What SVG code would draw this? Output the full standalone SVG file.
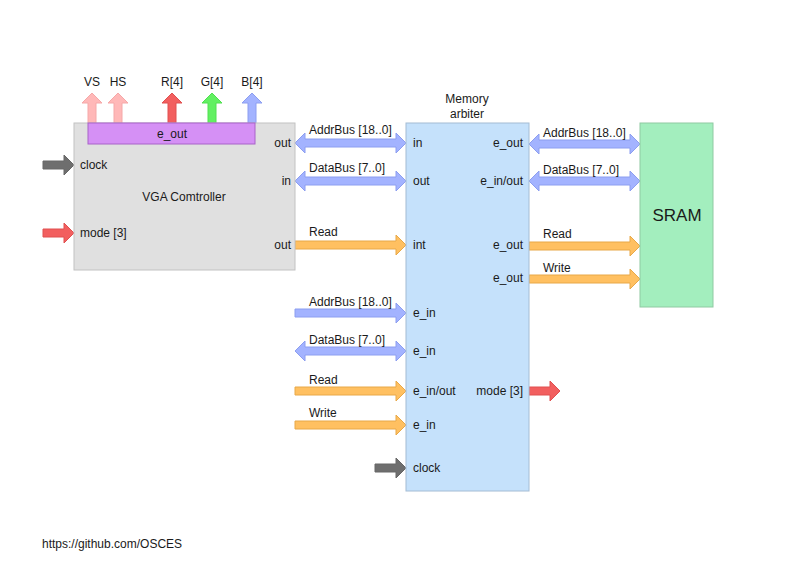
<svg xmlns="http://www.w3.org/2000/svg" width="800" height="577" viewBox="0 0 800 577">
<style>
text{font-family:"Liberation Sans",Arial,sans-serif;font-size:12px;fill:#1a1a1a}
.r{text-anchor:end}
.m{text-anchor:middle}
.blue{fill:#a3b3ff;stroke:#8c9ef0;stroke-width:1}
.orange{fill:#ffc061;stroke:#e8a848;stroke-width:1}
.gray{fill:#6e6e6e;stroke:#666;stroke-width:1}
.red{fill:#f25f5f;stroke:#e05050;stroke-width:1}
.pink{fill:#ffb8b8;stroke:#f5a8a8;stroke-width:1}
.green{fill:#62f062;stroke:#50e050;stroke-width:1}
</style>
<rect width="800" height="577" fill="#ffffff"/>
<g id="connectors">
<path class="pink" d="M88,123 L88,103 L82,103 L92,93 L102,103 L96,103 L96,123 Z"/>
<path class="pink" d="M114,123 L114,103 L108,103 L118,93 L128,103 L122,103 L122,123 Z"/>
<path class="red" d="M168,123 L168,103 L162,103 L172,93 L182,103 L176,103 L176,123 Z"/>
<path class="green" d="M208,123 L208,103 L202,103 L212,93 L222,103 L216,103 L216,123 Z"/>
<path class="blue" d="M248,123 L248,103 L242,103 L252,93 L262,103 L256,103 L256,123 Z"/>
<path class="gray" d="M43,161 L64,161 L64,155 L74,165 L64,175 L64,169 L43,169 Z"/>
<path class="red" d="M43,229 L64,229 L64,223 L74,233 L64,243 L64,237 L43,237 Z"/>
<path class="blue" d="M295,143 L305,133 L305,139 L396,139 L396,133 L406,143 L396,153 L396,147 L305,147 L305,153 Z"/>
<path class="blue" d="M295,181 L305,171 L305,177 L396,177 L396,171 L406,181 L396,191 L396,185 L305,185 L305,191 Z"/>
<path class="orange" d="M295,241 L396,241 L396,235 L406,245 L396,255 L396,249 L295,249 Z"/>
<path class="blue" d="M295,309 L396,309 L396,303 L406,313 L396,323 L396,317 L295,317 Z"/>
<path class="blue" d="M295,351 L305,341 L305,347 L396,347 L396,341 L406,351 L396,361 L396,355 L305,355 L305,361 Z"/>
<path class="orange" d="M295,387 L396,387 L396,381 L406,391 L396,401 L396,395 L295,395 Z"/>
<path class="orange" d="M295,421 L396,421 L396,415 L406,425 L396,435 L396,429 L295,429 Z"/>
<path class="gray" d="M375,464 L396,464 L396,458 L406,468 L396,478 L396,472 L375,472 Z"/>
<path class="red" d="M529,387 L550,387 L550,381 L560,391 L550,401 L550,395 L529,395 Z"/>
<path class="blue" d="M529,144 L539,134 L539,140 L630,140 L630,134 L640,144 L630,154 L630,148 L539,148 L539,154 Z"/>
<path class="blue" d="M529,181 L539,171 L539,177 L630,177 L630,171 L640,181 L630,191 L630,185 L539,185 L539,191 Z"/>
<path class="orange" d="M529,242 L630,242 L630,236 L640,246 L630,256 L630,250 L529,250 Z"/>
<path class="orange" d="M529,275 L630,275 L630,269 L640,279 L630,289 L630,283 L529,283 Z"/>
<text x="309" y="134">AddrBus [18..0]</text>
<text x="309" y="172">DataBus [7..0]</text>
<text x="309" y="236">Read</text>
<text x="309" y="306">AddrBus [18..0]</text>
<text x="309" y="344">DataBus [7..0]</text>
<text x="309" y="384">Read</text>
<text x="309" y="417">Write</text>
<text x="543" y="137">AddrBus [18..0]</text>
<text x="543" y="174">DataBus [7..0]</text>
<text x="543" y="238">Read</text>
<text x="543" y="272">Write</text>
</g>
<g id="vga">
<rect x="74" y="123" width="221" height="147" fill="#e0e0e0" stroke="#c2c2c2"/>
<text class="m" x="184" y="201">VGA Comtroller</text>
<text x="80" y="169">clock</text>
<text x="80" y="237">mode [3]</text>
<text class="r" x="291" y="147">out</text>
<text class="r" x="291" y="185">in</text>
<text class="r" x="291" y="249">out</text>
</g>
<g id="e_out">
<rect x="88" y="123" width="167" height="21" fill="#d590f5" stroke="#a862c8"/>
<text class="m" x="172" y="138">e_out</text>
</g>
<g id="signals">
<text class="m" x="92" y="86">VS</text>
<text class="m" x="118" y="86">HS</text>
<text class="m" x="172" y="86">R[4]</text>
<text class="m" x="212" y="86">G[4]</text>
<text class="m" x="252" y="86">B[4]</text>
</g>
<g id="arbiter">
<rect x="406" y="123" width="123" height="368" fill="#c5e1fb" stroke="#a4bcd4"/>
<text class="m" x="467" y="103">Memory</text>
<text class="m" x="467" y="118">arbiter</text>
<text x="413" y="147">in</text>
<text x="413" y="185">out</text>
<text x="413" y="249">int</text>
<text x="413" y="317">e_in</text>
<text x="413" y="355">e_in</text>
<text x="413" y="395">e_in/out</text>
<text x="413" y="429">e_in</text>
<text x="413" y="472">clock</text>
<text class="r" x="523" y="147">e_out</text>
<text class="r" x="523" y="185">e_in/out</text>
<text class="r" x="523" y="249">e_out</text>
<text class="r" x="523" y="282">e_out</text>
<text class="r" x="523" y="395">mode [3]</text>
</g>
<g id="sram">
<rect x="640" y="123" width="73" height="184" fill="#a3eebe" stroke="#8fcaa2"/>
<text class="m" x="677" y="221" style="font-size:17px">SRAM</text>
</g>
<text x="42" y="548">https://github.com/OSCES</text>
</svg>
